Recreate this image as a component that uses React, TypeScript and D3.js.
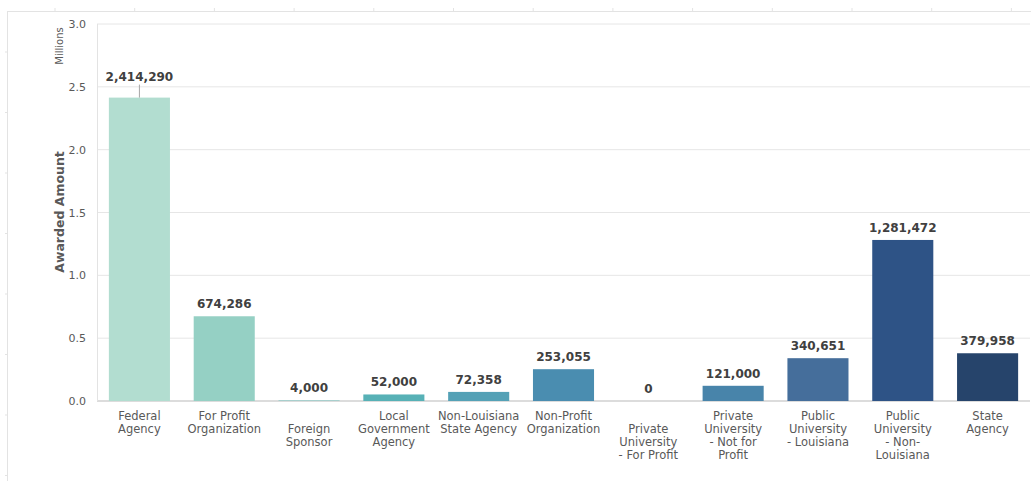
import React from "react";
import * as d3 from "d3";

const categories: string[][] = [
  ["Federal", "Agency"],
  ["For Profit", "Organization"],
  ["", "Foreign", "Sponsor"],
  ["Local", "Government", "Agency"],
  ["Non-Louisiana", "State Agency"],
  ["Non-Profit", "Organization"],
  ["", "Private", "University", "- For Profit"],
  ["Private", "University", "- Not for", "Profit"],
  ["Public", "University", "- Louisiana"],
  ["Public", "University", "- Non-", "Louisiana"],
  ["State", "Agency"],
];
const values: number[] = [2414290, 674286, 4000, 52000, 72358, 253055, 0, 121000, 340651, 1281472, 379958];
const colors: string[] = ["#b2ddd0", "#95d0c4", "#74c2bd", "#57b1b6", "#54a1b6", "#4a8db0", "#4886ac", "#4884aa", "#456e9b", "#2e5386", "#26446b"];
const yTicks: number[] = [0, 0.5, 1.0, 1.5, 2.0, 2.5, 3.0];

const W = 1031, H = 481;
const left = 97, right = 1030, top = 24, bottom = 401;
const FONT = "Verdana, 'DejaVu Sans', sans-serif";

export default function App() {
  const x = d3.scaleBand<number>().domain(values.map((_, i) => i)).range([left, right]).paddingInner(0.28).paddingOuter(0.14);
  const y = d3.scaleLinear().domain([0, 3]).range([bottom, top]);
  const fmt = d3.format(",");
  const topTicks = d3.range(55, W, 79.7);
  const leftTicks = d3.range(52, H, 60.5);
  return (
    <svg width={W} height={H} style={{ position: "absolute", left: 0, top: 0, background: "#fff" }}>
      {/* outer frame */}
      <line x1={7} x2={W} y1={11.5} y2={11.5} stroke="#e3e3e3" />
      <line x1={7.5} x2={7.5} y1={11} y2={H} stroke="#e3e3e3" />
      {topTicks.map((t, i) => (
        <line key={"tt" + i} x1={t} x2={t} y1={8} y2={11} stroke="#e3e3e3" />
      ))}
      {leftTicks.map((t, i) => (
        <line key={"lt" + i} x1={5} x2={7} y1={t} y2={t} stroke="#e3e3e3" />
      ))}
      {/* grid */}
      {yTicks.map((t) => (
        <g key={t}>
          <line x1={left} x2={right} y1={y(t)} y2={y(t)} stroke={t === 0 ? "#dcdcdc" : "#e6e6e6"} strokeWidth={t === 0 ? 2 : 1} />
          <text x={86} y={y(t) + 4} textAnchor="end" fontFamily={FONT} fontSize={11} fill="#595959">
            {d3.format(".1f")(t)}
          </text>
        </g>
      ))}
      <line x1={left + 0.5} x2={left + 0.5} y1={top} y2={bottom} stroke="#e3e3e3" />
      <text transform={`translate(63,46) rotate(-90)`} textAnchor="middle" fontFamily={FONT} fontSize={10} fill="#595959">
        Millions
      </text>
      <text transform={`translate(64,212) rotate(-90)`} textAnchor="middle" fontFamily={FONT} fontSize={12.5} fontWeight="bold" fill="#595959">
        Awarded Amount
      </text>
      {values.map((v, i) => {
        const bx = x(i)!;
        const cx = bx + x.bandwidth() / 2;
        const by = y(v / 1e6);
        const lifted = y(v / 1e6) - y(2.4) < 5 ? 1 : 0;
        const ly = by - 9 - lifted * 9;
        return (
          <g key={i}>
            <rect x={bx} y={by} width={x.bandwidth()} height={bottom - by} fill={colors[i]} />
            {lifted ? <line x1={cx} x2={cx} y1={ly + 5} y2={by} stroke="#a6a6a6" /> : null}
            <text x={cx} y={ly + 1} textAnchor="middle" fontFamily={FONT} fontSize={12} fontWeight="bold" fill="#404040">
              {fmt(v)}
            </text>
            {categories[i].map((line, j) => (
              <text key={j} x={cx} y={bottom + 19 + j * 13} textAnchor="middle" fontFamily={FONT} fontSize={11.5} fill="#595959">
                {line}
              </text>
            ))}
          </g>
        );
      })}
    </svg>
  );
}
